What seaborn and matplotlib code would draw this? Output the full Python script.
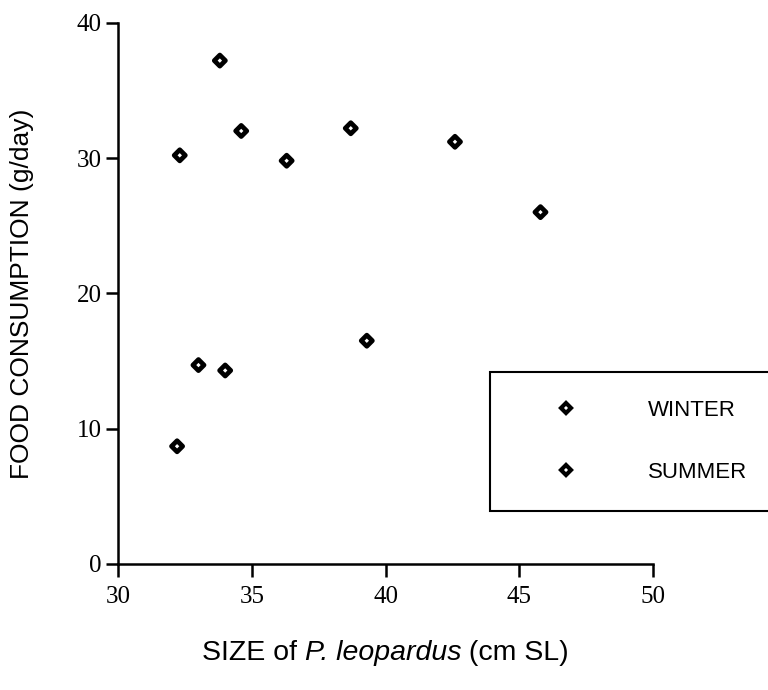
import matplotlib
matplotlib.use("Agg")
import matplotlib.pyplot as plt
from matplotlib.lines import Line2D
import seaborn as sns
import pandas as pd

# ---- data ----
winter_size = [32.2, 33.0, 34.0, 39.3]
winter_food = [8.7, 14.7, 14.3, 16.5]
summer_size = [32.3, 33.8, 34.6, 36.3, 38.7, 42.6, 45.8]
summer_food = [30.2, 37.2, 32.0, 29.8, 32.2, 31.2, 26.0]
seasons = ["WINTER", "SUMMER"]
x_ticks = [30, 35, 40, 45, 50]
y_ticks = [0, 10, 20, 30, 40]
xlabel_parts = ["SIZE of ", "P. leopardus", " (cm SL)"]
xlabel_styles = ["normal", "italic", "normal"]

sns.set_theme(style="ticks")
plt.rcParams["font.family"] = ["Liberation Sans", "DejaVu Sans"]

df = pd.DataFrame({
    "size": winter_size + summer_size,
    "food": winter_food + summer_food,
    "season": [seasons[0]] * len(winter_size) + [seasons[1]] * len(summer_size),
})

fig = plt.figure(figsize=(7.68, 6.9), dpi=100)
ax = fig.add_axes([118.3 / 768, 1 - 564 / 690, (652.7 - 118.3) / 768, (564 - 22.7) / 690])

sns.scatterplot(data=df, x="size", y="food", hue="season", hue_order=seasons,
                palette={s: "white" for s in seasons}, marker="D", s=32,
                edgecolor="black", linewidth=3.4, legend=False, ax=ax,
                clip_on=False, zorder=3)
for coll in ax.collections:
    coll.set_joinstyle("round")

ax.set_xlim(30, 50)
ax.set_ylim(0, 40)
ax.set_xticks(x_ticks)
ax.set_yticks(y_ticks)
sns.despine(ax=ax)
for side in ["left", "bottom"]:
    ax.spines[side].set_linewidth(1.8)
    ax.spines[side].set_color("black")
ax.tick_params(axis="both", direction="out", length=9, width=1.8, color="black",
               labelsize=18, labelcolor="black", labelfontfamily="Liberation Serif")
ax.tick_params(axis="x", pad=7)
ax.tick_params(axis="y", pad=3)

ax.set_ylabel("FOOD CONSUMPTION (g/day)", fontsize=19, color="black")
ax.yaxis.set_label_coords(-0.158, 0.5)
ax.set_xlabel("")

# x label made of normal + italic pieces, chained and then centred under the axes
pieces = []
prev = None
for txt, style in zip(xlabel_parts, xlabel_styles):
    if prev is None:
        t = fig.text(0.5, 1 - 660 / 690, txt, fontsize=20.5, fontstyle=style,
                     color="black", ha="left", va="baseline")
    else:
        t = ax.annotate(txt, xy=(1, 0), xycoords=prev, fontsize=20.5,
                        fontstyle=style, color="black", ha="left", va="bottom",
                        annotation_clip=False)
    pieces.append(t)
    prev = t
fig.canvas.draw()
r = fig.canvas.get_renderer()
left = pieces[0].get_window_extent(r).x0
right = pieces[-1].get_window_extent(r).x1
center_px = (118.3 + 652.7) / 2
pieces[0].set_x((pieces[0].get_position()[0] * 768 + center_px - (left + right) / 2) / 768)

handles = [Line2D([], [], marker="D", ls="", mfc="white", mec="black", mew=3.0, ms=5.0)
           for _ in seasons]
leg = ax.legend(handles, seasons, loc="upper left",
                bbox_to_anchor=(490 / 768, 1 - 512 / 690, 0.4, 140 / 690),
                bbox_transform=fig.transFigure, mode="expand", frameon=True,
                fancybox=False, fontsize=16, borderpad=1.25, borderaxespad=0,
                handlelength=4.3, handletextpad=1.55, labelspacing=1.85,
                framealpha=1, labelcolor="black")
leg.get_frame().set_edgecolor("black")
leg.get_frame().set_linewidth(1.5)

fig.savefig("out.png", dpi=100)
